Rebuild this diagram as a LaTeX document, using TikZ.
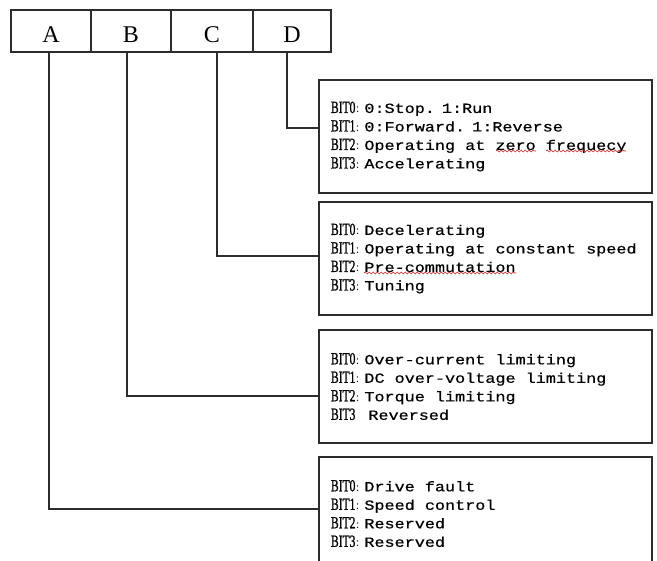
\documentclass[tikz,border=0pt]{standalone}
\usepackage{fontspec}
\setmainfont{Liberation Serif}
\newfontfamily\bitfont[FakeStretch=0.68, FakeBold=1]{Liberation Serif}
\newfontfamily\descfont[FakeStretch=1.2, FakeBold=0.6]{Liberation Mono}
\newfontfamily\cjk{Noto Sans CJK SC}
\usetikzlibrary{positioning, decorations.pathmorphing}
\definecolor{linegray}{RGB}{45, 45, 45}
\definecolor{squigred}{RGB}{205, 35, 35}
\newcommand{\bitrow}[2]{{\bitfont\fontsize{17}{18.5}\selectfont BIT#1}{\cjk\fontsize{9}{18.5}\selectfont ：}#2}

\begin{document}
\begin{tikzpicture}[
  x=1pt, y=-1pt,
  cell/.style      = {draw=linegray, line width=1.3pt, outer sep=0pt, inner sep=0pt,
                      minimum height=42pt, text height=24pt, text depth=0pt,
                      font=\fontsize{24}{28}\selectfont},
  bitbox/.style    = {draw=linegray, line width=1.3pt, outer sep=0pt,
                      minimum width=333pt, minimum height=113pt,
                      text width=309pt, inner xsep=12pt, align=left,
                      font=\descfont\fontsize{14}{18.5}\selectfont,
                      execute at begin node={\spaceskip=10.08pt\relax}},
  connector/.style = {draw=linegray, line width=1.3pt},
  squiggle/.style  = {draw=squigred, line width=0.6pt, decorate,
                      decoration={snake, amplitude=1pt, segment length=4pt}}
]
\clip (0,0) rectangle (657,561);

%% Status word cells
\node[cell, minimum width=80pt, anchor=north west] (cellA) at (11,10) {A};
\node[cell, minimum width=80pt, right=0pt of cellA] (cellB) {B};
\node[cell, minimum width=82pt, right=0pt of cellB] (cellC) {C};
\node[cell, minimum width=78pt, right=0pt of cellC] (cellD) {D};

%% Bit descriptions
\node[bitbox, anchor=north west] (bitsD) at (319,80)
  {\bitrow{0}{0:Stop. 1:Run}\\
   \bitrow{1}{0:Forward. 1:Reverse}\\
   \bitrow{2}{Operating at zero frequecy}\\
   \bitrow{3}{Accelerating}};

\node[bitbox, below=9pt of bitsD] (bitsC)
  {\bitrow{0}{Decelerating}\\
   \bitrow{1}{Operating at constant speed}\\
   \bitrow{2}{Pre-commutation}\\
   \bitrow{3}{Tuning}};

\node[bitbox, below=15pt of bitsC] (bitsB)
  {\bitrow{0}{Over-current limiting}\\
   \bitrow{1}{DC over-voltage limiting}\\
   \bitrow{2}{Torque limiting}\\
   {\bitfont\fontsize{17}{18.5}\selectfont BIT3}\hspace{13pt}Reversed};

\node[bitbox, below=14pt of bitsB] (bitsA)
  {\bitrow{0}{Drive fault}\\
   \bitrow{1}{Speed control}\\
   \bitrow{2}{Reserved}\\
   \bitrow{3}{Reserved}};

%% Connectors
\draw[connector] ([xshift=-5pt]cellD.south) |- ([yshift=8.5pt]bitsD.west);
\draw[connector] ([xshift=5pt]cellC.south) |- ([yshift=2.5pt]bitsC.west);
\draw[connector] ([xshift=-4pt]cellB.south) |- ([yshift=-9.5pt]bitsB.west);
\draw[connector] ([xshift=-2pt]cellA.south) |- ([yshift=4.5pt]bitsA.west);

%% Spell-check marks
\draw[squiggle] ([shift={(177,71)}]bitsD.north west) -- ++(40,0);
\draw[squiggle] ([shift={(227,71)}]bitsD.north west) -- ++(80,0);
\draw[squiggle] ([shift={(45,71)}]bitsC.north west) -- ++(152,0);

\end{tikzpicture}
\end{document}
